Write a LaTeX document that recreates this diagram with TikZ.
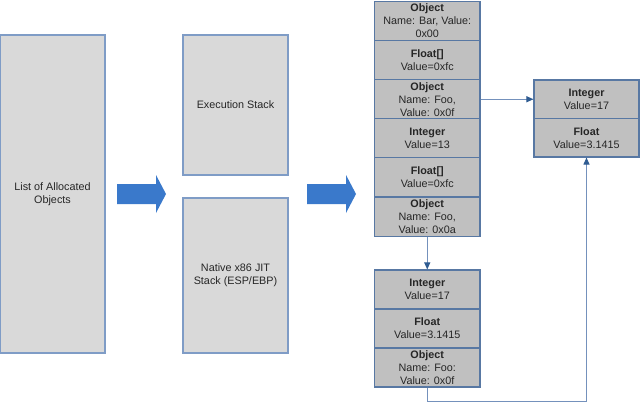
\documentclass[tikz,border=0pt]{standalone}
\usepackage{fontspec}
\setmainfont{Liberation Sans}
\usetikzlibrary{arrows.meta}
\definecolor{lightbox}{HTML}{D9D9D9}
\definecolor{darkbox}{HTML}{C0C0C0}
\definecolor{edge}{HTML}{5878A3}
\definecolor{edgelight}{HTML}{7F9CC6}
\definecolor{conn}{HTML}{7491BC}
\definecolor{tipc}{HTML}{2F5C92}
\definecolor{bigarrow}{HTML}{3A79CB}
\definecolor{txt}{HTML}{262626}
\begin{document}
\begin{tikzpicture}[x=1pt,y=-1pt,
  every node/.style={font=\fontsize{10.8}{13}\selectfont, text=txt, align=center, inner sep=0pt},
  panel/.style={draw=edgelight, line width=1.1pt, fill=lightbox},
  cell/.style={draw=edge, line width=1.1pt, fill=darkbox, minimum width=105.5pt, minimum height=39.1pt},
  link/.style={draw=conn, line width=1pt, -{Triangle[length=7pt,width=6pt,color=tipc]}},
  blockarrow/.style={fill=bigarrow, draw=none}]
\useasboundingbox (0,0) rectangle (640,402);
% left panels
\node[panel, minimum width=105pt, minimum height=318pt] (list) at (52.5,194) {List of Allocated\\Objects};
\node[panel, minimum width=105pt, minimum height=140pt] (exec) at (235.5,105) {Execution Stack};
\node[panel, minimum width=105pt, minimum height=155pt] (native) at (235.5,275.5) {Native x86 JIT\\Stack (ESP/EBP)};
% block arrows
\fill[blockarrow] (117,184) -- (156,184) -- (156,175) -- (166,194) -- (156,213) -- (156,204) -- (117,204) -- cycle;
\fill[blockarrow] (307,184) -- (346,184) -- (346,175) -- (356,194) -- (346,213) -- (346,204) -- (307,204) -- cycle;
% stack column
\node[cell] (o1) at (427.25,21.05) {\textbf{Object}\\Name: Bar, Value:\\0x00};
\node[cell] (o2) at (427.25,60.15) {\textbf{Float[]}\\Value=0xfc};
\node[cell] (o3) at (427.25,99.25) {\textbf{Object}\\Name: Foo,\\Value: 0x0f};
\node[cell] (o4) at (427.25,138.35) {\textbf{Integer}\\Value=13};
\node[cell] (o5) at (427.25,177.45) {\textbf{Float[]}\\Value=0xfc};
\node[cell] (o6) at (427.25,216.55) {\textbf{Object}\\Name: Foo,\\Value: 0x0a};
% right box
\node[cell, minimum width=105pt, minimum height=38.5pt] (r1) at (586.5,99.25) {\textbf{Integer}\\Value=17};
\node[cell, minimum width=105pt, minimum height=38.5pt] (r2) at (586.5,137.75) {\textbf{Float}\\Value=3.1415};
% bottom box
\node[cell, minimum height=39pt] (b1) at (427.25,289.5) {\textbf{Integer}\\Value=17};
\node[cell, minimum height=39pt] (b2) at (427.25,328.5) {\textbf{Float}\\Value=3.1415};
\node[cell, minimum height=39pt] (b3) at (427.25,367.5) {\textbf{Object}\\Name: Foo:\\Value: 0x0f};
% connectors
\draw[link] (o3.east) -- (r1.west);
\draw[link] (o6.south) -- (b1.north);
\draw[link] (b3.south) -- ++(0,13.5) -| (r2.south);
\end{tikzpicture}
\end{document}
